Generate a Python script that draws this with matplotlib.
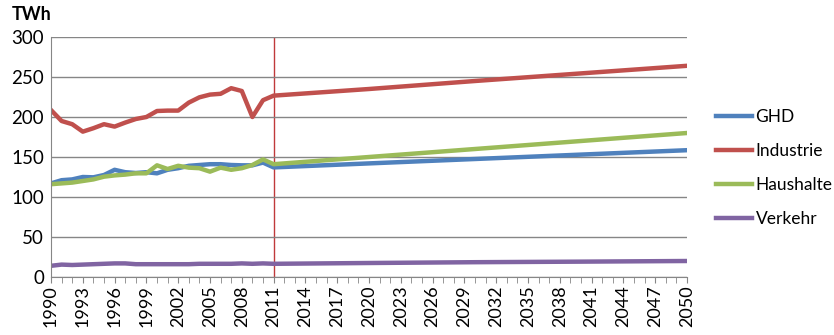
import numpy as np
import matplotlib.pyplot as plt

# Jahre mit Werten (historisch 1990-2011, danach Projektion bis 2050)
years_hist = list(range(1990, 2012))
years_proj = [2011, 2020, 2030, 2040, 2050]

ghd_hist = [117, 121, 122, 125, 124.6, 127.5, 134, 131, 130, 131, 129.6, 134,
            136, 139, 140, 141, 141, 140, 139.6, 139.6, 143, 137]
ghd_proj = [137, 142, 147.5, 153, 158.5]

industrie_hist = [208.7, 195, 191, 181.7, 186, 191, 188, 193, 197.5, 200, 207.5, 208,
                  208, 218, 224.6, 228, 229, 236, 232.5, 200, 221, 226.7]
industrie_proj = [226.7, 235, 245, 254.5, 264]

haushalte_hist = [116, 117, 118, 120, 122, 125.4, 127, 128, 129.6, 129.6, 139.6, 135,
                  139, 136.7, 136, 131.7, 136.7, 134, 136, 140, 147, 141]
haushalte_proj = [141, 150, 160, 170, 180]

verkehr_hist = [14, 15.5, 15, 15.5, 16, 16.5, 17, 17, 16, 16, 16, 16,
                16, 16, 16.5, 16.5, 16.5, 16.5, 17, 16.5, 17, 16.5]
verkehr_proj = [16.5, 17.5, 18.5, 19.2, 20]

names = ['GHD', 'Industrie', 'Haushalte', 'Verkehr']
colors = ['#4F81BD', '#C0504D', '#9BBB59', '#8064A2']
hist = [ghd_hist, industrie_hist, haushalte_hist, verkehr_hist]
proj = [ghd_proj, industrie_proj, haushalte_proj, verkehr_proj]

plt.rcParams['font.family'] = ['Lato', 'DejaVu Sans']

fig = plt.figure(figsize=(8.34, 3.35), dpi=100)
ax = fig.add_axes([51/834, 1-277/335, (687-51)/834, (277-37)/335])

for n, c, h, p in zip(names, colors, hist, proj):
    x = years_hist + years_proj[1:]
    y = h + p[1:]
    ax.plot(x, y, color=c, lw=3.2, label=n, solid_joinstyle='round')

ax.axvline(2011, color='#C0393B', lw=1.0, zorder=0)

ax.set_xlim(1990, 2050)
ax.set_ylim(0, 300)
ax.set_yticks(range(0, 301, 50))
ax.set_xticks(range(1990, 2051, 3))
ax.set_xticks(range(1990, 2051, 1), minor=True)
ax.tick_params(axis='x', which='both', length=4, color='#868686', rotation=90, labelsize=13, pad=2)
ax.tick_params(axis='y', length=0, labelsize=13.5, pad=5)
ax.grid(axis='y', color='#868686', lw=1.0)
ax.set_axisbelow(True)
for s in ['top', 'right']:
    ax.spines[s].set_visible(False)
ax.spines['left'].set_color('#868686')
ax.spines['bottom'].set_color('#868686')

fig.text(12/834, 1-15/335, 'TWh', fontsize=13, fontweight='bold', va='center')

fig.legend(loc='center left', bbox_to_anchor=(700/834, 1-168/335), frameon=False,
           fontsize=12.5, handlelength=2.1, handletextpad=0.2, labelspacing=1.05)

fig.savefig('out.png', dpi=100)
